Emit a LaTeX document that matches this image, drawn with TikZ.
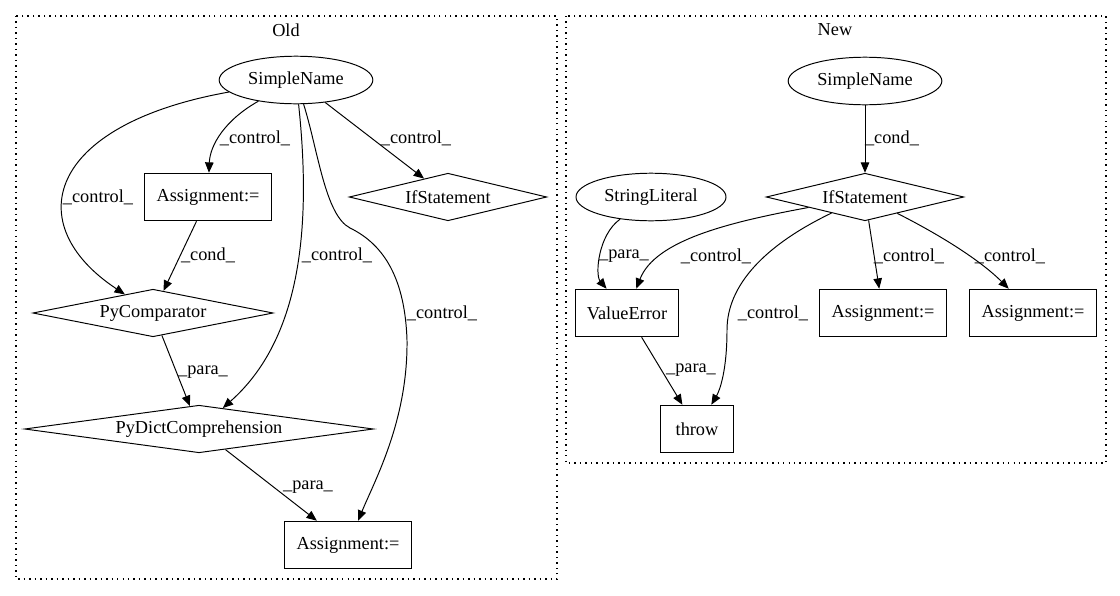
\documentclass[tikz,border=0pt]{standalone}
\usepackage{fontspec}
\setmainfont{Liberation Serif}
\usetikzlibrary{arrows.meta,shapes.geometric}

\begin{document}
\begin{tikzpicture}[x=0.82pt,y=-0.82pt,->,>={Triangle[length=8.5pt,width=7pt]},
    line width=0.8pt,font=\fontsize{15}{17}\selectfont,
    box node/.style={rectangle,draw,minimum height=39pt,inner sep=0pt},
    name node/.style={ellipse,draw,minimum height=39pt,inner sep=0pt},
    cond node/.style={diamond,draw,minimum height=39pt,aspect=4,inner sep=0pt},
    edge label/.style={inner sep=0pt},
    cluster/.style={-,line width=0.9pt,dash pattern=on 1.2pt off 3.3pt},
    ctrl/.style 2 args={to path={.. controls #1 and #2 .. (\tikztotarget)}}]

  \useasboundingbox (0,0) rectangle (1120,596);

  % the two clusters
  \draw[cluster] (16,16) rectangle (557,579);
  \draw[cluster] (566,16) rectangle (1106,463);
  \node (oldtitle) at (286,30) {Old};
  \node (newtitle) at (835,30) {New};

  % old graph
  \node[name node,minimum width=126pt] (oldname) at (296,80)  {SimpleName};
  \node[box node,minimum width=104pt]  (oldasg)  at (208,197) {Assignment:=};
  \node[cond node,minimum width=162pt] (oldif)   at (448,197) {IfStatement};
  \node[cond node,minimum width=197pt] (oldcmp)  at (153,313) {PyComparator};
  \node[cond node,minimum width=286pt,aspect=7] (olddict) at (199,429) {PyDictComprehension};
  \node[box node,minimum width=104pt]  (oldres)  at (348,545) {Assignment:=};

  % new graph
  \node[name node,minimum width=126pt] (newname)  at (865,81)  {SimpleName};
  \node[cond node,minimum width=162pt] (newif)    at (865,197) {IfStatement};
  \node[name node,minimum width=123pt] (newstr)   at (651,197) {StringLiteral};
  \node[box node,minimum width=84pt]   (newerr)   at (627,313) {ValueError};
  \node[box node,minimum width=104pt]  (newasga)  at (883,313) {Assignment:=};
  \node[box node,minimum width=104pt]  (newasgb)  at (1033,313) {Assignment:=};
  \node[box node,minimum width=60pt]   (newthrow) at (697,429) {throw};

  \path (oldname) edge[ctrl={(225,120)}{(210,145)}] (oldasg)
        (oldname) edge (oldif)
        (oldname) edge[ctrl={(45,125)}{(20,225)}] (oldcmp)
        (oldasg) edge (oldcmp)
        (oldname) edge[ctrl={(312,230)}{(300,340)}] (olddict)
        (oldname) edge[to path={.. controls (318,150) and (325,215) .. (350,228)
                     .. controls (385,245) and (405,280) .. (407,340)
                     .. controls (408,420) and (375,480) .. (\tikztotarget)}] (oldres)
        (oldcmp) edge (olddict)
        (olddict) edge (oldres);

  \path (newname) edge (newif)
        (newstr) edge[ctrl={(598,235)}{(595,275)}] (newerr)
        (newif) edge[ctrl={(730,222)}{(655,240)}] (newerr)
        (newif) edge[to path={.. controls (765,245) and (727,285) .. (727,330)
                   .. controls (727,370) and (720,390) .. (\tikztotarget)}] (newthrow)
        (newif) edge (newasga)
        (newif) edge[ctrl={(940,235)}{(980,260)}] (newasgb)
        (newerr) edge (newthrow);

  % edge labels
  \node[edge label] (l1)  at (255,138) {\_control\_};
  \node[edge label] (l2)  at (416,138) {\_control\_};
  \node[edge label] (l3)  at (98,197)  {\_control\_};
  \node[edge label] (l4)  at (208,255) {\_cond\_};
  \node[edge label] (l5)  at (337,255) {\_control\_};
  \node[edge label] (l6)  at (442,313) {\_control\_};
  \node[edge label] (l7)  at (203,372) {\_para\_};
  \node[edge label] (l8)  at (308,487) {\_para\_};
  \node[edge label] (l9)  at (892,138) {\_cond\_};
  \node[edge label] (l10) at (624,256) {\_para\_};
  \node[edge label] (l11) at (716,256) {\_control\_};
  \node[edge label] (l12) at (773,313) {\_control\_};
  \node[edge label] (l13) at (909,256) {\_control\_};
  \node[edge label] (l14) at (1010,256) {\_control\_};
  \node[edge label] (l15) at (691,370) {\_para\_};

\end{tikzpicture}
\end{document}
